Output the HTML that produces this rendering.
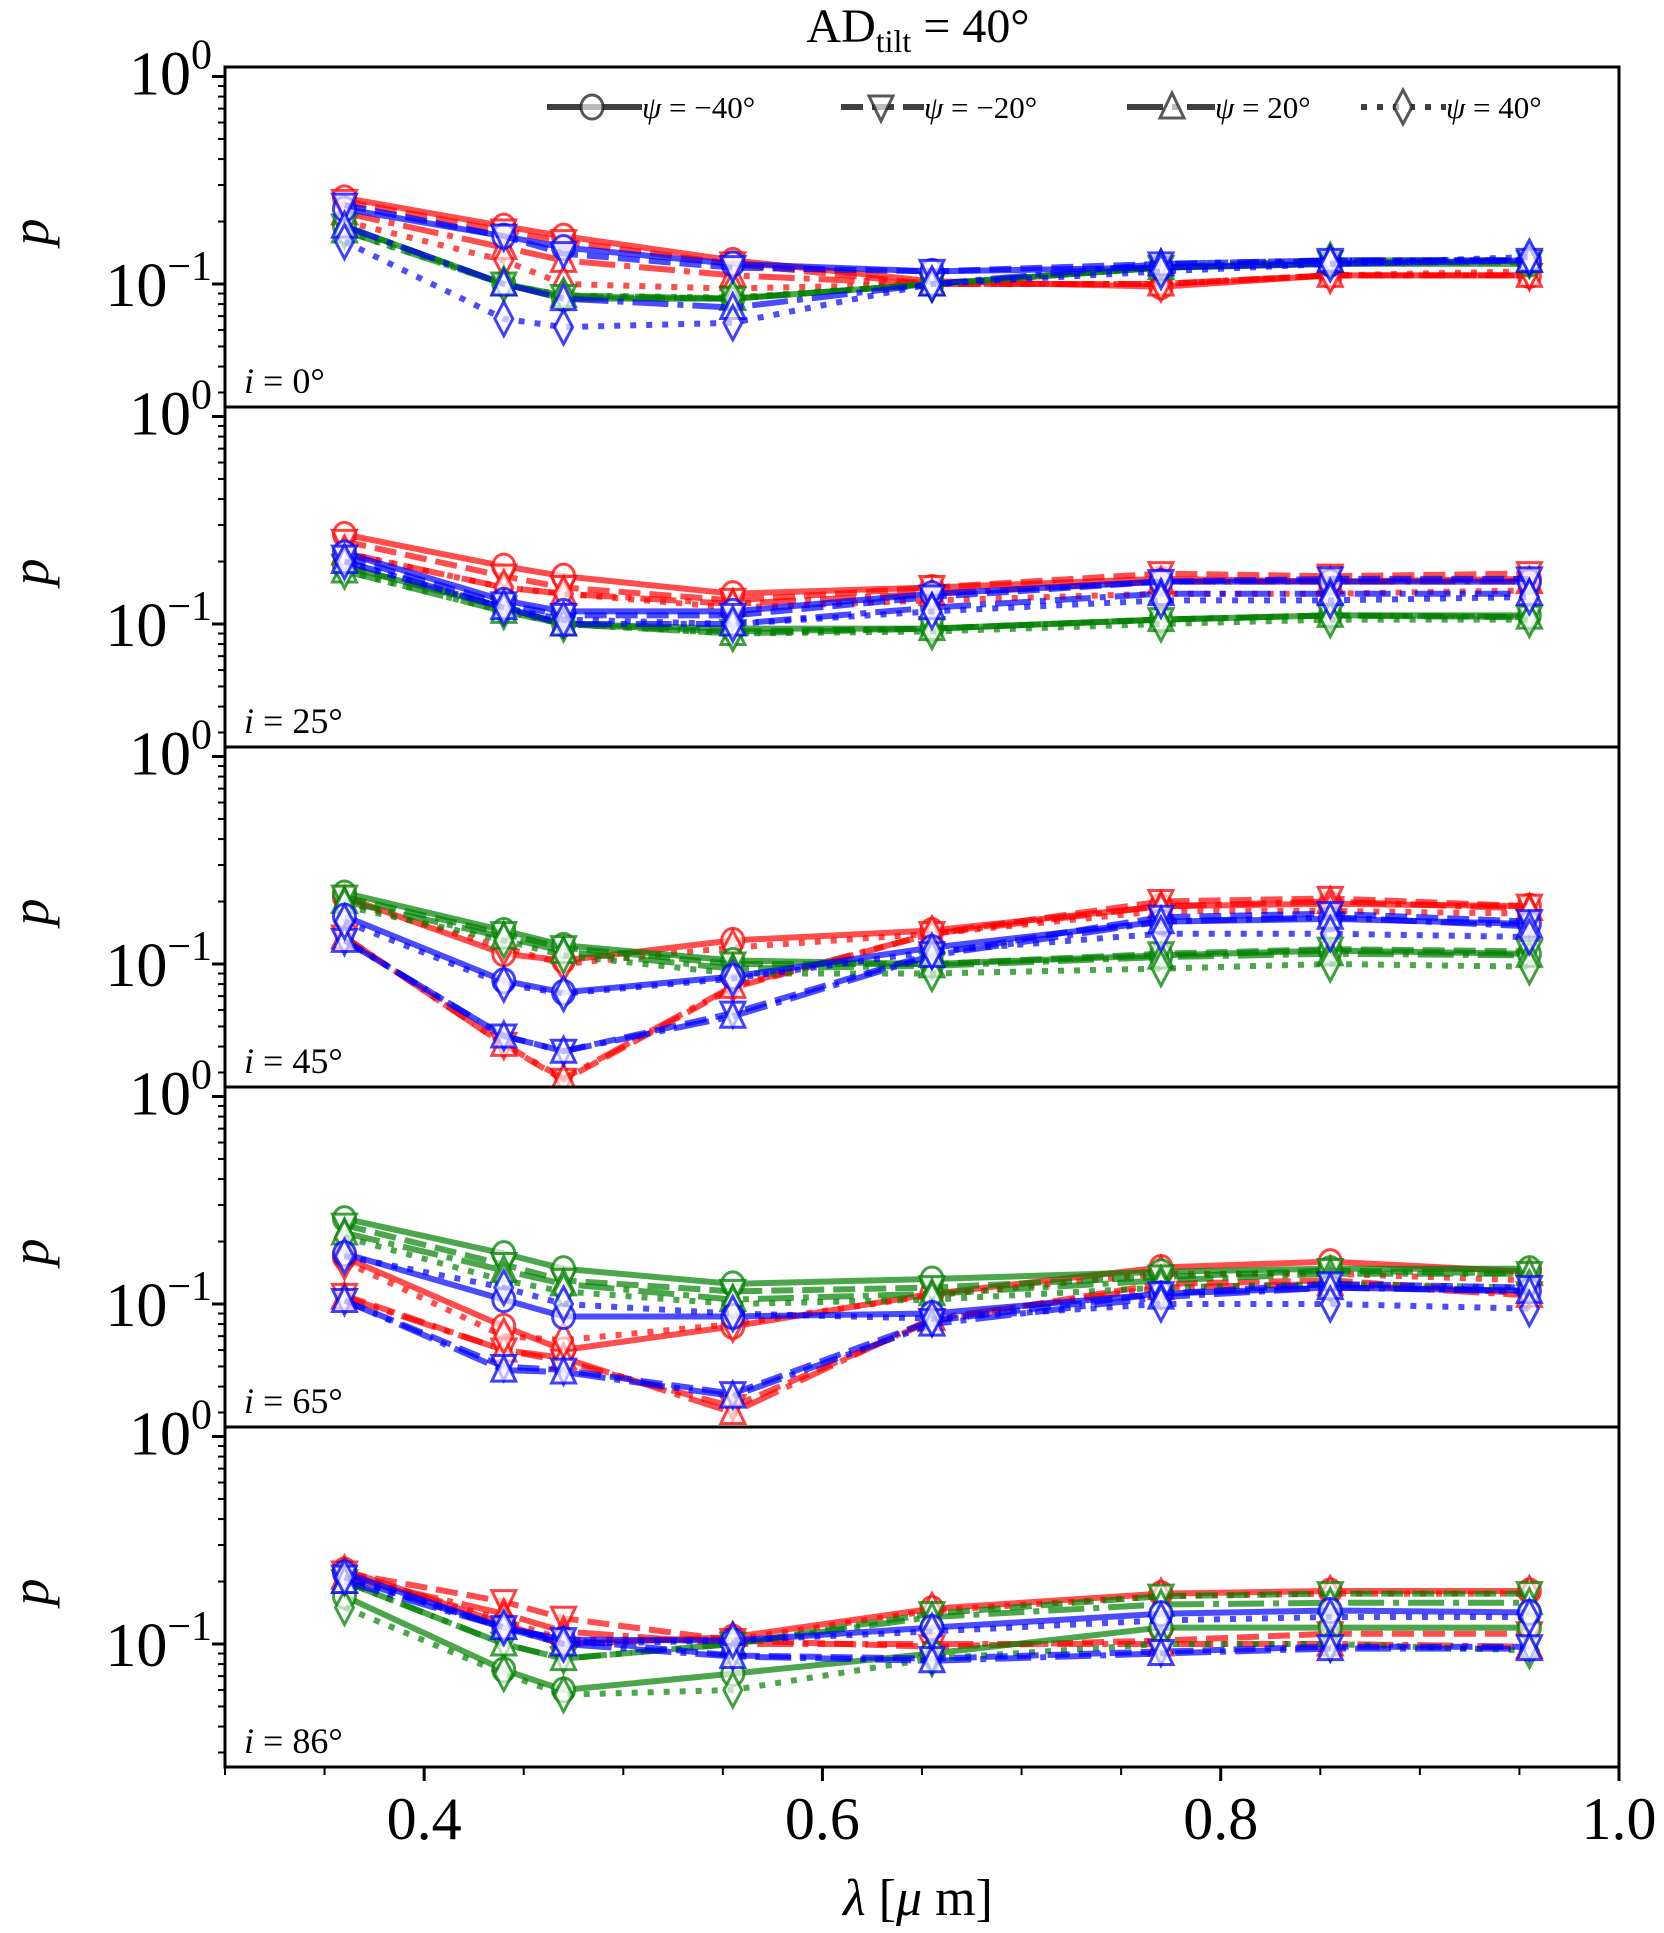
<!DOCTYPE html>
<html><head><meta charset="utf-8">
<style>
html,body{margin:0;padding:0;background:#fff;}
svg{display:block;}
text{font-family:"Liberation Serif","DejaVu Serif",serif;fill:#000;}
</style></head>
<body>
<svg id="chart" width="1664" height="1933" viewBox="0 0 1664 1933" xmlns="http://www.w3.org/2000/svg">
<text x="918" y="42" text-anchor="middle" font-size="48">AD<tspan font-size="32" dy="10">tilt</tspan><tspan dy="-10"> = 40°</tspan></text>
<g id="panels"></g>
<g id="xaxis"></g>
<text x="918" y="1915" text-anchor="middle" font-size="52"><tspan font-style="italic">λ</tspan> [<tspan font-style="italic">μ</tspan> m]</text>
<g id="legend"></g>
</svg>
<script>
const lambdas = [0.36, 0.44, 0.47, 0.555, 0.655, 0.77, 0.855, 0.955];
const panelLabels = ["i = 0°", "i = 25°", "i = 45°", "i = 65°", "i = 86°"];
const psiLabels = ["ψ = −40°", "ψ = −20°", "ψ = 20°", "ψ = 40°"];
const xTicks = [0.4, 0.6, 0.8, 1.0];
const xTickLabels = ["0.4", "0.6", "0.8", "1.0"];
// each: [psi-40, psi-20, psi20, psi40]
const p0_red = [[0.26,0.19,0.17,0.13,0.103,0.097,0.11,0.11],[0.25,0.18,0.16,0.125,0.1,0.1,0.11,0.11],[0.22,0.15,0.13,0.11,0.1,0.1,0.11,0.11],[0.2,0.13,0.1,0.095,0.1,0.1,0.11,0.115]];
const p0_green = [[0.19,0.1,0.085,0.085,0.1,0.12,0.125,0.125],[0.19,0.1,0.087,0.085,0.1,0.12,0.127,0.127],[0.18,0.1,0.088,0.085,0.1,0.12,0.13,0.13],[0.18,0.1,0.088,0.086,0.1,0.12,0.13,0.13]];
const p0_blue = [[0.23,0.17,0.15,0.125,0.115,0.12,0.125,0.13],[0.24,0.17,0.14,0.12,0.115,0.125,0.13,0.13],[0.19,0.1,0.085,0.077,0.1,0.125,0.13,0.13],[0.16,0.068,0.062,0.065,0.1,0.115,0.125,0.135]];
const p1_red = [[0.27,0.19,0.17,0.14,0.15,0.165,0.16,0.165],[0.25,0.17,0.15,0.13,0.15,0.175,0.17,0.175],[0.22,0.15,0.14,0.125,0.14,0.16,0.16,0.16],[0.22,0.15,0.14,0.12,0.13,0.14,0.14,0.145]];
const p1_green = [[0.19,0.12,0.1,0.095,0.095,0.105,0.11,0.11],[0.19,0.12,0.1,0.092,0.095,0.105,0.11,0.108],[0.18,0.115,0.1,0.09,0.095,0.105,0.11,0.108],[0.18,0.115,0.1,0.09,0.092,0.1,0.105,0.105]];
const p1_blue = [[0.22,0.13,0.115,0.115,0.14,0.16,0.16,0.16],[0.21,0.125,0.11,0.11,0.135,0.16,0.165,0.165],[0.2,0.12,0.1,0.1,0.12,0.14,0.14,0.14],[0.2,0.12,0.105,0.1,0.115,0.13,0.13,0.135]];
const p2_red = [[0.21,0.112,0.104,0.13,0.145,0.19,0.195,0.19],[0.135,0.041,0.0275,0.077,0.14,0.2,0.207,0.19],[0.135,0.041,0.028,0.078,0.14,0.19,0.2,0.185],[0.2,0.12,0.1,0.12,0.14,0.18,0.18,0.175]];
const p2_green = [[0.22,0.145,0.123,0.104,0.1,0.11,0.116,0.112],[0.21,0.14,0.12,0.1,0.1,0.112,0.118,0.115],[0.2,0.135,0.115,0.095,0.098,0.108,0.112,0.11],[0.19,0.13,0.11,0.09,0.09,0.095,0.1,0.097]];
const p2_blue = [[0.17,0.083,0.073,0.087,0.12,0.16,0.165,0.156],[0.13,0.045,0.038,0.058,0.112,0.168,0.175,0.16],[0.13,0.045,0.038,0.056,0.11,0.16,0.168,0.152],[0.16,0.08,0.072,0.085,0.115,0.14,0.14,0.135]];
const p3_red = [[0.168,0.078,0.06,0.078,0.112,0.15,0.16,0.143],[0.11,0.06,0.053,0.032,0.083,0.125,0.13,0.112],[0.108,0.06,0.055,0.03,0.085,0.12,0.125,0.11],[0.16,0.07,0.067,0.08,0.11,0.14,0.14,0.13]];
const p3_green = [[0.258,0.175,0.148,0.125,0.132,0.143,0.148,0.148],[0.24,0.155,0.13,0.115,0.12,0.135,0.145,0.14],[0.22,0.145,0.125,0.105,0.112,0.13,0.14,0.14],[0.21,0.13,0.115,0.1,0.105,0.12,0.125,0.12]];
const p3_blue = [[0.175,0.105,0.087,0.087,0.09,0.112,0.12,0.116],[0.104,0.05,0.048,0.037,0.083,0.112,0.125,0.12],[0.104,0.048,0.047,0.036,0.08,0.108,0.12,0.115],[0.17,0.12,0.1,0.09,0.085,0.1,0.1,0.095]];
const p4_red = [[0.227,0.125,0.1,0.108,0.148,0.175,0.18,0.18],[0.22,0.16,0.133,0.104,0.097,0.104,0.112,0.112],[0.21,0.14,0.115,0.1,0.1,0.1,0.1,0.097],[0.22,0.13,0.105,0.105,0.145,0.17,0.175,0.175]];
const p4_green = [[0.17,0.075,0.06,0.072,0.09,0.12,0.12,0.12],[0.2,0.1,0.085,0.1,0.14,0.17,0.175,0.175],[0.2,0.1,0.085,0.1,0.135,0.155,0.158,0.158],[0.15,0.072,0.057,0.06,0.085,0.1,0.1,0.093]];
const p4_blue = [[0.22,0.12,0.105,0.104,0.12,0.14,0.145,0.142],[0.21,0.12,0.105,0.088,0.085,0.092,0.097,0.097],[0.2,0.12,0.1,0.087,0.083,0.09,0.095,0.095],[0.21,0.12,0.1,0.104,0.115,0.13,0.135,0.135]];

const panelData = [[p0_red,p0_green,p0_blue],[p1_red,p1_green,p1_blue],[p2_red,p2_green,p2_blue],[p3_red,p3_green,p3_blue],[p4_red,p4_green,p4_blue]];
const colors = ["#ff0000","#008000","#0000ff"];
const colorNames = ["red","green","blue"];
const dashes = ["none","22,9","36,9,6,9","6,10"];
const markers = ["circle","tri-down","tri-up","diamond"];

const NS = "http://www.w3.org/2000/svg";
const L = 225, R = 1619, TOP = 67, PH = 340;
const LOGMAX = 9.5/207.5, LOGMIN = -1 - 123/207.5;
function xs(v){ return L + (v-0.3)/(0.7)*(R-L); }
function ys(k, v){ const lg = Math.log10(v); return TOP + PH*k + (LOGMAX-lg)/(LOGMAX-LOGMIN)*PH; }
function mk(tag, attrs, parent){ const e=document.createElementNS(NS,tag); for(const a in attrs) e.setAttribute(a, attrs[a]); parent.appendChild(e); return e; }

function markerEl(type, x, y, color, parent, scale){
  const s = scale||1;
  let e;
  if(type==="circle") e = mk("ellipse",{cx:x,cy:y,rx:11*s,ry:12*s},parent);
  else if(type==="tri-down") e = mk("polygon",{points:`${x-12*s},${y-11*s} ${x+12*s},${y-11*s} ${x},${y+14*s}`},parent);
  else if(type==="tri-up") e = mk("polygon",{points:`${x-12*s},${y+11*s} ${x+12*s},${y+11*s} ${x},${y-14*s}`},parent);
  else e = mk("polygon",{points:`${x},${y-17*s} ${x+9*s},${y} ${x},${y+17*s} ${x-9*s},${y}`},parent);
  e.setAttribute("fill","rgba(255,255,255,0.65)");
  e.setAttribute("stroke",color);
  e.setAttribute("stroke-width",3);
  e.setAttribute("stroke-opacity",0.75);
  return e;
}

const panelsG = document.getElementById("panels");
for(let k=0;k<5;k++){
  const g = mk("g",{},panelsG);
  
  
  const t = TOP+PH*k;
  const clip = mk("clipPath",{id:"c"+k},g);
  mk("rect",{x:L,y:t,width:R-L,height:PH},clip);
  const yax = mk("g",{},g);
  
  
  for(let dec=-2; dec<=0; dec++){
    for(let m=1;m<=9;m++){
      const v = m*Math.pow(10,dec);
      const y = ys(k,v);
      if(y < t-0.5 || y > t+PH+0.5) continue;
      const len = m===1?13:7;
      mk("line",{x1:L-len,x2:L,y1:y,y2:y,stroke:"#000","stroke-width":m===1?3:2},yax);
    }
  }
  const lab0 = mk("text",{x:212,y:ys(k,1)+18,"text-anchor":"end","font-size":62},yax);
  
  
  lab0.innerHTML = '10<tspan font-size="42" dy="-26">0</tspan>';
  const lab1 = mk("text",{x:212,y:ys(k,0.1)+22,"text-anchor":"end","font-size":62},yax);
  
  
  lab1.innerHTML = '10<tspan font-size="42" dy="-26">−1</tspan>';
  const yl = mk("text",{x:0,y:0,"text-anchor":"middle","font-size":54,"font-style":"italic",transform:`translate(48,${t+165}) rotate(-90)`},g);
  
  
  yl.textContent = "p";
  const sg = mk("g",{"clip-path":`url(#c${k})`},g);
  for(let c=0;c<3;c++){
    for(let s=0;s<4;s++){
      const vals = panelData[k][c][s];
      const sr = mk("g",{},sg);
      
      
      const pts = vals.map((v,i)=>xs(lambdas[i]).toFixed(1)+","+ys(k,v).toFixed(1)).join(" ");
      const pl = mk("polyline",{points:pts,fill:"none",stroke:colors[c],"stroke-width":6,"stroke-opacity":0.7,"stroke-linejoin":"round"},sr);
      if(dashes[s]!=="none") pl.setAttribute("stroke-dasharray",dashes[s]);
      
      
      vals.forEach((v,i)=>{
        const m = markerEl(markers[s], xs(lambdas[i]), ys(k,v), colors[c], sr);
        
        
      });
    }
  }
  const fr = mk("rect",{x:L,y:t,width:R-L,height:PH,fill:"none",stroke:"#000","stroke-width":3},g);
  
  
  const pl = mk("text",{x:244,y:t+326,"font-size":36},g);
  
  
  const parts = panelLabels[k].split(" = ");
  pl.innerHTML = `<tspan font-style="italic">${parts[0]}</tspan> = ${parts[1]}`;
}
const xg = document.getElementById("xaxis");
const yb = TOP+5*PH;
for(let v=0.3; v<=1.0001; v+=0.05){
  const major = xTicks.some(t=>Math.abs(t-v)<1e-6);
  mk("line",{x1:xs(v),x2:xs(v),y1:yb,y2:yb+(major?14:8),stroke:"#000","stroke-width":major?3:2},xg);
}
xTicks.forEach((v,i)=>{
  const t = mk("text",{x:xs(v),y:yb+72,"text-anchor":"middle","font-size":60},xg);
  
  
  t.textContent = xTickLabels[i];
});
const lg = document.getElementById("legend");
const legX = [[547,642,592],[841,924,881],[1127,1215,1172],[1361,1446,1403]];
for(let s=0;s<4;s++){
  const e = mk("g",{},lg);
  
  
  const ln = mk("line",{x1:legX[s][0],x2:legX[s][1],y1:107,y2:107,stroke:"#404040","stroke-width":6},e);
  if(dashes[s]!=="none") ln.setAttribute("stroke-dasharray",dashes[s]);
  markerEl(markers[s], legX[s][2], 107, "#202020", e);
  const tx = mk("text",{x:legX[s][1],y:118,"font-size":31},e);
  const pp = psiLabels[s].split(" = ");
  tx.innerHTML = `<tspan font-style="italic">${pp[0]}</tspan> = ${pp[1]}`;
}
</script>
</body></html>
